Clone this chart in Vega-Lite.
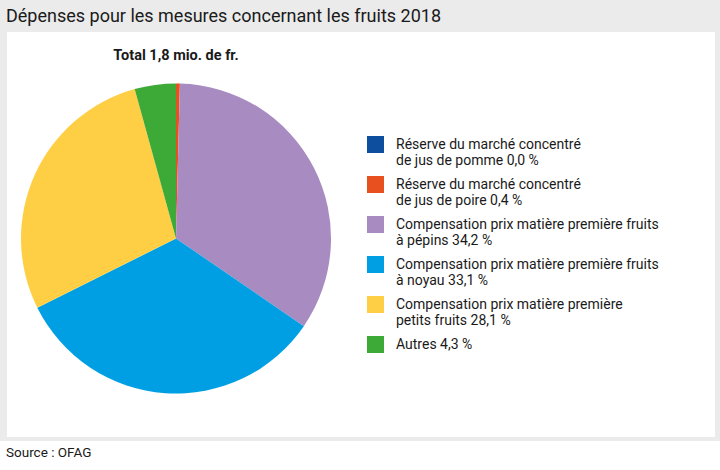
{
  "$schema": "https://vega.github.io/schema/vega-lite/v6.json",
  "background": "#ebebeb",
  "padding": {"left": 0, "top": 8, "right": 0, "bottom": 0},
  "spacing": 4,
  "config": {
    "view": {"stroke": null},
    "font": "Roboto, sans-serif"
  },
  "vconcat": [
    {
      "title": {
        "text": "Dépenses pour les mesures concernant les fruits 2018",
        "anchor": "start",
        "dx": 6,
        "fontSize": 18,
        "fontWeight": "normal",
        "color": "#1a1a1a",
        "offset": 6
      },
      "spacing": 0,
      "hconcat": [
        {
          "width": 7,
          "height": 405,
          "data": {"values": []},
          "mark": "point"
        },
        {
          "width": 338,
          "height": 405,
          "view": {"fill": "white", "stroke": null},
          "title": {
            "text": "Total 1,8 mio. de fr.",
            "anchor": "middle",
            "fontSize": 14.5,
            "fontWeight": "bold",
            "color": "#1a1a1a",
            "baseline": "middle",
            "offset": -38
          },
          "data": {
            "values": [
              {"label": "Réserve du marché concentré|de jus de pomme 0,0 %", "value": 0.0, "order": 1},
              {"label": "Réserve du marché concentré|de jus de poire 0,4 %", "value": 0.4, "order": 2},
              {"label": "Compensation prix matière première fruits|à pépins 34,2 %", "value": 34.2, "order": 3},
              {"label": "Compensation prix matière première fruits|à noyau 33,1 %", "value": 33.1, "order": 4},
              {"label": "Compensation prix matière première|petits fruits 28,1 %", "value": 28.1, "order": 5},
              {"label": "Autres 4,3 %", "value": 4.3, "order": 6}
            ]
          },
          "mark": {"type": "arc", "radius": 155, "yOffset": 4},
          "encoding": {
            "theta": {"field": "value", "type": "quantitative", "stack": true},
            "order": {"field": "order", "type": "quantitative"},
            "color": {
              "field": "label",
              "type": "nominal",
              "sort": null,
              "scale": {
                "domain": [
                  "Réserve du marché concentré|de jus de pomme 0,0 %",
                  "Réserve du marché concentré|de jus de poire 0,4 %",
                  "Compensation prix matière première fruits|à pépins 34,2 %",
                  "Compensation prix matière première fruits|à noyau 33,1 %",
                  "Compensation prix matière première|petits fruits 28,1 %",
                  "Autres 4,3 %"
                ],
                "range": ["#0d4f9e", "#e8501f", "#a88bc1", "#009fe3", "#fecf45", "#3da936"]
              },
              "legend": {
                "title": null,
                "orient": "none",
                "legendX": 367,
                "legendY": 104,
                "symbolType": "square",
                "symbolSize": 289,
                "symbolStrokeWidth": 0,
                "symbolOpacity": 1,
                "labelFontSize": 14,
                "labelColor": "#1a1a1a",
                "labelLimit": 400,
                "labelOffset": 12,
                "rowPadding": 8,
                "gridAlign": "all",
                "labelExpr": "split(datum.label, '|')",
                "zindex": 1
              }
            }
          }
        },
        {
          "width": 370,
          "height": 405,
          "view": {"fill": "white", "stroke": null},
          "data": {"values": []},
          "mark": "point"
        }
      ]
    },
    {
      "width": 720,
      "height": 29,
      "view": {"fill": "white", "stroke": null},
      "title": {
        "text": "Source : OFAG",
        "anchor": "start",
        "dx": 6,
        "fontSize": 13.5,
        "fontWeight": "normal",
        "color": "#1a1a1a",
        "baseline": "middle",
        "offset": -25
      },
      "data": {"values": []},
      "mark": "point"
    }
  ]
}
